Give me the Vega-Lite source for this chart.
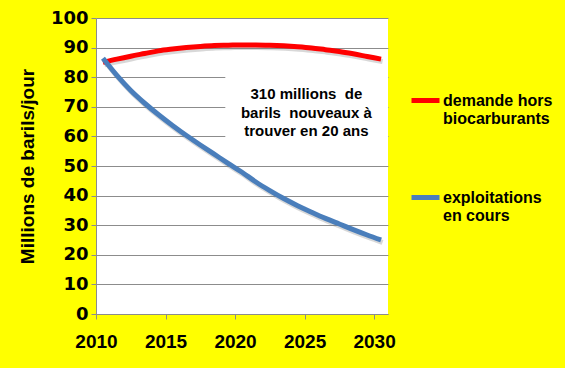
{
  "$schema": "https://vega.github.io/schema/vega-lite/v6.json",
  "width": 292,
  "height": 296,
  "autosize": {"type": "none"},
  "padding": {"left": 96, "top": 18, "right": 177, "bottom": 54},
  "background": "#FFFF00",
  "config": {"view": {"stroke": null, "fill": "#FFFFFF"}, "font": "Liberation Sans"},
  "datasets": {
    "series": [
      {"year": 2010, "value": 85.0, "series": "demande hors biocarburants"},
      {"year": 2011, "value": 86.1, "series": "demande hors biocarburants"},
      {"year": 2012, "value": 87.1, "series": "demande hors biocarburants"},
      {"year": 2013, "value": 88.0, "series": "demande hors biocarburants"},
      {"year": 2014, "value": 88.9, "series": "demande hors biocarburants"},
      {"year": 2015, "value": 89.5, "series": "demande hors biocarburants"},
      {"year": 2016, "value": 90.0, "series": "demande hors biocarburants"},
      {"year": 2017, "value": 90.4, "series": "demande hors biocarburants"},
      {"year": 2018, "value": 90.7, "series": "demande hors biocarburants"},
      {"year": 2019, "value": 90.8, "series": "demande hors biocarburants"},
      {"year": 2020, "value": 90.9, "series": "demande hors biocarburants"},
      {"year": 2021, "value": 90.9, "series": "demande hors biocarburants"},
      {"year": 2022, "value": 90.8, "series": "demande hors biocarburants"},
      {"year": 2023, "value": 90.6, "series": "demande hors biocarburants"},
      {"year": 2024, "value": 90.3, "series": "demande hors biocarburants"},
      {"year": 2025, "value": 89.9, "series": "demande hors biocarburants"},
      {"year": 2026, "value": 89.3, "series": "demande hors biocarburants"},
      {"year": 2027, "value": 88.7, "series": "demande hors biocarburants"},
      {"year": 2028, "value": 87.9, "series": "demande hors biocarburants"},
      {"year": 2029, "value": 87.0, "series": "demande hors biocarburants"},
      {"year": 2030, "value": 86.1, "series": "demande hors biocarburants"},
      {"year": 2010, "value": 86.4, "series": "exploitations en cours"},
      {"year": 2011, "value": 80.6, "series": "exploitations en cours"},
      {"year": 2012, "value": 75.5, "series": "exploitations en cours"},
      {"year": 2013, "value": 71.2, "series": "exploitations en cours"},
      {"year": 2014, "value": 67.3, "series": "exploitations en cours"},
      {"year": 2015, "value": 63.7, "series": "exploitations en cours"},
      {"year": 2016, "value": 60.3, "series": "exploitations en cours"},
      {"year": 2017, "value": 57.1, "series": "exploitations en cours"},
      {"year": 2018, "value": 54.0, "series": "exploitations en cours"},
      {"year": 2019, "value": 50.9, "series": "exploitations en cours"},
      {"year": 2020, "value": 47.9, "series": "exploitations en cours"},
      {"year": 2021, "value": 44.6, "series": "exploitations en cours"},
      {"year": 2022, "value": 41.7, "series": "exploitations en cours"},
      {"year": 2023, "value": 39.0, "series": "exploitations en cours"},
      {"year": 2024, "value": 36.6, "series": "exploitations en cours"},
      {"year": 2025, "value": 34.4, "series": "exploitations en cours"},
      {"year": 2026, "value": 32.3, "series": "exploitations en cours"},
      {"year": 2027, "value": 30.4, "series": "exploitations en cours"},
      {"year": 2028, "value": 28.5, "series": "exploitations en cours"},
      {"year": 2029, "value": 26.7, "series": "exploitations en cours"},
      {"year": 2030, "value": 25.0, "series": "exploitations en cours"}
    ],
    "box": [{"year": 2018.8, "year2": 2030.5, "value": 54.5, "value2": 85.2}],
    "note": [{"year": 2024.63, "value": 74.3, "label": "310 millions\u00a0 de\nbarils\u00a0 nouveaux à\ntrouver en 20 ans"}]
  },
  "encoding": {
    "x": {
      "field": "year", "type": "quantitative",
      "scale": {"domain": [2009.5, 2030.5], "nice": false, "zero": false},
      "axis": {
        "values": [2009.5, 2014.5, 2019.5, 2024.5, 2029.5],
        "labelExpr": "format(datum.value + 0.5, 'd')",
        "title": null, "grid": false,
        "domainColor": "#8c8c8c", "tickColor": "#8c8c8c", "tickSize": 5,
        "labelFontSize": 19, "labelFontWeight": "bold", "labelColor": "#000000",
        "labelPadding": 13, "labelFlush": false, "labelOverlap": false
      }
    },
    "y": {
      "field": "value", "type": "quantitative",
      "scale": {"domain": [0, 100], "nice": false},
      "axis": {
        "values": [0, 10, 20, 30, 40, 50, 60, 70, 80, 90, 100],
        "title": "Millions de barils/jour", "titleFontSize": 19, "titleFontWeight": "bold",
        "titleColor": "#000000", "titlePadding": 13,
        "grid": true, "gridColor": "#8c8c8c",
        "domainColor": "#8c8c8c", "tickColor": "#8c8c8c", "tickSize": 5,
        "labelFont": "DejaVu Sans",
        "labelFontSize": 18, "labelFontWeight": "bold", "labelColor": "#000000", "labelPadding": 3
      }
    }
  },
  "layer": [
    {
      "data": {"name": "box"},
      "mark": {"type": "rect", "fill": "#FFFFFF"},
      "encoding": {"x2": {"field": "year2"}, "y2": {"field": "value2"}}
    },
    {
      "data": {"name": "series"},
      "mark": {"type": "line", "interpolate": "monotone", "strokeWidth": 5, "color": "#7f7f7f", "opacity": 0.3, "xOffset": 1.5, "yOffset": 2.5},
      "encoding": {"detail": {"field": "series"}}
    },
    {
      "data": {"name": "series"},
      "mark": {"type": "line", "interpolate": "monotone", "strokeWidth": 5},
      "encoding": {
        "color": {
          "field": "series", "type": "nominal",
          "scale": {"domain": ["demande hors biocarburants", "exploitations en cours"], "range": ["#FF0000", "#4A7EBB"]},
          "legend": {
            "orient": "none", "legendX": 313, "legendY": 66, "title": null,
            "padding": 0,
            "symbolType": "stroke", "symbolSize": 784, "symbolStrokeWidth": 5,
            "labelFontSize": 16, "labelFontWeight": "bold", "labelColor": "#000000",
            "labelOffset": 1, "labelLimit": 0, "rowPadding": 54,
            "labelBaseline": "middle",
            "labelExpr": "datum.value == 'demande hors biocarburants' ? ['demande hors', 'biocarburants'] : ['exploitations', 'en cours']",
            "encode": {"labels": {"update": {"lineHeight": {"value": 18}}}}
          }
        }
      }
    },
    {
      "data": {"name": "note"},
      "mark": {"type": "text", "lineBreak": "\n", "fontSize": 15, "fontWeight": "bold", "lineHeight": 18.5, "align": "center", "baseline": "middle", "color": "#000000"},
      "encoding": {"text": {"field": "label"}}
    }
  ]
}
